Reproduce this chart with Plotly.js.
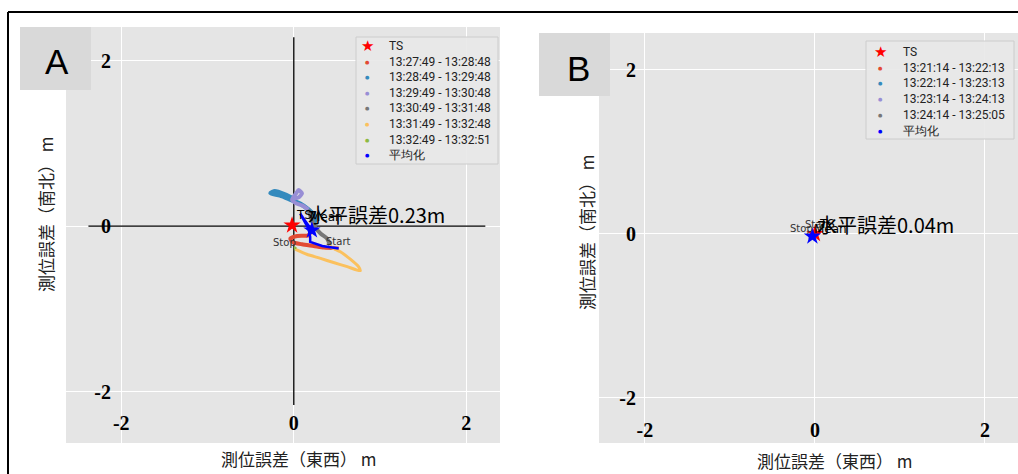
<!DOCTYPE html>
<html><head><meta charset="utf-8">
<script src="https://cdn.plot.ly/plotly-3.0.1.min.js"></script>
<style>html,body{margin:0;padding:0;overflow:hidden;background:#fff;} #chart{width:1040px;height:474px;}</style>
</head><body><div id="chart"></div>
<script>
// ================= DATA =================
// Panel A
const namesA = ["13:27:49 - 13:28:48", "13:28:49 - 13:29:48", "13:29:49 - 13:30:48",
                "13:30:49 - 13:31:48", "13:31:49 - 13:32:48", "13:32:49 - 13:32:51"];
const a1x = [0.52, 0.35, 0.23, 0.095, -0.02, -0.04, 0.04, 0.17, 0.22];
const a1y = [-0.27, -0.26, -0.24, -0.22, -0.19, -0.15, -0.12, -0.11, -0.02];
const a2x = [0.22, 0.25, 0.17, 0.075, -0.04, -0.16, -0.27, -0.22, -0.10, 0.0];
const a2y = [-0.02, 0.11, 0.20, 0.27, 0.32, 0.37, 0.40, 0.42, 0.38, 0.33];
const a3x = [0.0, 0.056, 0.095, 0.056, 0.03, -0.02, 0.017, 0.095, 0.17];
const a3y = [0.33, 0.347, 0.395, 0.435, 0.40, 0.32, 0.28, 0.25, 0.20];
const a4x = [0.17, 0.21, 0.23, 0.31, 0.385, 0.42];
const a4y = [0.20, 0.07, 0.01, -0.09, -0.15, -0.23];
const a5x = [0.42, 0.44, 0.54, 0.655, 0.75, 0.77, 0.62, 0.46, 0.31, 0.15, 0.02];
const a5y = [-0.23, -0.26, -0.31, -0.40, -0.49, -0.54, -0.49, -0.44, -0.39, -0.34, -0.28];
const a6x = [0.02, 0.01, 0.0];
const a6y = [-0.28, -0.27, -0.27];
const meanAx = [0.52, 0.33, 0.19, 0.19, 0.17, 0.13, 0.075, 0.12, 0.18, 0.21];
const meanAy = [-0.27, -0.24, -0.19, -0.13, -0.03, 0.05, 0.15, 0.08, 0.0, -0.05];
const tsAx = [-0.02], tsAy = [0.01];
const errTextA = "水平誤差0.23m";

// Panel B
const namesB = ["13:21:14 - 13:22:13", "13:22:14 - 13:23:13", "13:23:14 - 13:24:13", "13:24:14 - 13:25:05"];
const b1x = [0.03, 0.01, 0.02, 0.0];
const b1y = [0.03, 0.02, 0.0, 0.01];
const b2x = [0.0, -0.02, -0.04, -0.03];
const b2y = [0.01, -0.01, -0.03, -0.05];
const b3x = [-0.03, -0.05, -0.06, -0.04];
const b3y = [-0.05, -0.03, -0.05, -0.04];
const b4x = [-0.04, -0.02, -0.03, -0.05];
const b4y = [-0.04, -0.03, -0.02, -0.01];
const meanBx = [0.03, 0.01, -0.01, -0.03];
const meanBy = [0.03, 0.01, -0.01, -0.03];
const tsBx = [0.0], tsBy = [0.0];
const errTextB = "水平誤差0.04m";

const tickVals = [-2, 0, 2];
const tickText = ["-2", "0", "2"];
const crossAx = [-2.38, 2.22];   // horizontal reference line extent (panel A)
const crossAy = [-2.16, 2.28];   // vertical reference line extent (panel A)
const tsName = "TS", meanName = "平均化";
const xTitle = "測位誤差（東西） m", yTitle = "測位誤差（南北） m";

// ================= STYLE / LAYOUT =================
const W = 1040, H = 474;
const fx = p => p / W, fy = p => 1 - p / H;
const colors = ['#E24A33', '#348ABD', '#988ED5', '#777777', '#FBC15E', '#8EBA42'];
const widths = [4, 4.5, 4, 4, 3, 4];
const CJK = "Noto Sans CJK JP";

const traces = [];
function addPanel(xa, ya, xs, ys, mx, my, tx, ty) {
  xs.forEach((sx, i) => {
    traces.push({type: 'scatter', mode: 'lines', x: sx, y: ys[i], xaxis: xa, yaxis: ya,
      line: {color: colors[i], width: widths[i], shape: 'spline', smoothing: 0.6}, showlegend: false, hoverinfo: 'skip'});
  });
  traces.push({type: 'scatter', mode: 'lines', x: mx, y: my, xaxis: xa, yaxis: ya,
    line: {color: '#0000FF', width: 2.5}, showlegend: false});
  traces.push({type: 'scatter', mode: 'markers', x: tx, y: ty, xaxis: xa, yaxis: ya,
    marker: {symbol: 'star', size: 13, color: '#FF0000'}, showlegend: false});
  traces.push({type: 'scatter', mode: 'markers', x: [mx[mx.length - 1]], y: [my[my.length - 1]], xaxis: xa, yaxis: ya,
    marker: {symbol: 'star', size: 13, color: '#0000FF'}, showlegend: false});
}
addPanel('x', 'y', [a1x, a2x, a3x, a4x, a5x, a6x], [a1y, a2y, a3y, a4y, a5y, a6y], meanAx, meanAy, tsAx, tsAy);
addPanel('x2', 'y2', [b1x, b2x, b3x, b4x], [b1y, b2y, b3y, b4y], meanBx, meanBy, tsBx, tsBy);

const tickFont = {family: 'Liberation Serif', size: 20, color: '#000', weight: 'bold'};
function axis(domain, range, anchorPos) {
  return {domain, range, anchor: 'free', position: anchorPos, tickvals: tickVals, ticktext: tickText,
    showgrid: true, gridcolor: '#FFFFFF', gridwidth: 1, zeroline: false, showline: false,
    ticks: '', tickfont: tickFont, fixedrange: true};
}

const annotations = [];
function pAnn(text, x, y, opts) {
  annotations.push(Object.assign({text, xref: 'paper', yref: 'paper', x: fx(x), y: fy(y),
    showarrow: false, xanchor: 'center', yanchor: 'middle'}, opts));
}
function dAnn(text, xa, ya, x, y, opts) {
  annotations.push(Object.assign({text, xref: xa, yref: ya, x, y, showarrow: false}, opts));
}

// Panel letters
pAnn('A', 57, 62, {font: {family: 'Liberation Sans', size: 35, color: '#000'}});
pAnn('B', 578, 68, {font: {family: 'Liberation Sans', size: 35, color: '#000'}});
// Axis titles
const titleFont = {family: CJK, size: 17, color: '#222'};
pAnn(xTitle, 299, 458, {font: titleFont});
pAnn(xTitle, 835, 460, {font: titleFont});
pAnn(yTitle, 45, 214, {font: titleFont, textangle: -90});
pAnn(yTitle, 586, 232, {font: titleFont, textangle: -90});

// Point labels
const smallFont = {family: 'DejaVu Sans', size: 10, color: '#333'};
const labFont = {family: 'DejaVu Sans', size: 12, color: '#000'};
function pointLabels(xa, ya, mx, my, lastX, lastY, tx, ty, errText, errShift, meanShift) {
  dAnn('Start', xa, ya, mx[0], my[0], {font: smallFont, xanchor: 'center', yanchor: 'middle', yshift: 7});
  dAnn('Stop', xa, ya, lastX[lastX.length - 1], lastY[lastY.length - 1], {font: smallFont, xanchor: 'center', yanchor: 'middle', yshift: 6, xshift: -9});
  dAnn('TS', xa, ya, tx[0], ty[0], {font: labFont, xanchor: 'left', yanchor: 'middle', xshift: 2, yshift: 10});
  dAnn('Mean', xa, ya, mx[mx.length - 1], my[my.length - 1], {font: labFont, xanchor: 'left', yanchor: 'middle', xshift: meanShift[0], yshift: meanShift[1]});
  dAnn(errText, xa, ya, mx[mx.length - 1], my[my.length - 1], {font: {family: CJK, size: 20, color: '#000'},
    xanchor: 'left', yanchor: 'middle', xshift: errShift[0], yshift: errShift[1]});
}
pointLabels('x', 'y', meanAx, meanAy, a6x, a6y, tsAx, tsAy, errTextA, [-6, 16], [-4, 13]);
pointLabels('x2', 'y2', meanBx, meanBy, b4x, b4y, tsBx, tsBy, errTextB, [3, 12], [0, 7]);

// Manual legends
const legFont = {family: 'Roboto', size: 12, color: '#222'};
const shapes = [];
function legend(box, markX, textX, y0, dy, names, cols) {
  shapes.push({type: 'rect', xref: 'paper', yref: 'paper', x0: fx(box[0]), x1: fx(box[2]), y0: fy(box[1]), y1: fy(box[3]),
    fillcolor: 'rgba(232,232,232,0.9)', line: {color: '#CCCCCC', width: 1}, layer: 'above'});
  pAnn('★', markX, y0, {font: {family: 'DejaVu Sans', size: 15, color: '#FF0000'}});
  pAnn(tsName, textX, y0, {font: legFont, xanchor: 'left'});
  names.forEach((n, i) => {
    pAnn('●', markX, y0 + dy * (i + 1), {font: {family: 'DejaVu Sans', size: 5, color: cols[i]}});
    pAnn(n, textX, y0 + dy * (i + 1), {font: legFont, xanchor: 'left'});
  });
  const k = names.length + 1;
  pAnn('●', markX, y0 + dy * k, {font: {family: 'DejaVu Sans', size: 5, color: '#0000FF'}});
  pAnn(meanName, textX, y0 + dy * k, {font: legFont, xanchor: 'left'});
}
legend([356, 37, 498, 164], 367.5, 387, 46, 15.6, namesA, colors);
legend([866, 41, 1014, 139], 880.7, 901, 52, 15.7, namesB, colors);

// Panel letter boxes
shapes.push({type: 'rect', xref: 'paper', yref: 'paper', x0: fx(20), x1: fx(91), y0: fy(27), y1: fy(90),
  fillcolor: '#D9D9D9', line: {width: 0}, layer: 'above'});
shapes.push({type: 'rect', xref: 'paper', yref: 'paper', x0: fx(539), x1: fx(610), y0: fy(33), y1: fy(96),
  fillcolor: '#D9D9D9', line: {width: 0}, layer: 'above'});
// Crosshair in panel A
shapes.push({type: 'line', xref: 'x', yref: 'y', x0: crossAx[0], x1: crossAx[1], y0: 0, y1: 0,
  line: {color: '#000', width: 1.3}, layer: 'between'});
shapes.push({type: 'line', xref: 'x', yref: 'y', x0: 0, x1: 0, y0: crossAy[0], y1: crossAy[1],
  line: {color: '#000', width: 1.3}, layer: 'between'});
// Outer frame
shapes.push({type: 'line', xref: 'paper', yref: 'paper', x0: fx(8), x1: 1.2, y0: fy(12), y1: fy(12), line: {color: '#000', width: 2}});
shapes.push({type: 'line', xref: 'paper', yref: 'paper', x0: fx(8), x1: fx(8), y0: fy(12), y1: -0.2, line: {color: '#000', width: 2}});

const layout = {
  width: W, height: H, margin: {l: 0, r: 0, t: 0, b: 0},
  paper_bgcolor: '#FFFFFF', plot_bgcolor: '#E5E5E5', showlegend: false,
  xaxis: axis([fx(66), fx(500)], [-2.64, 2.39], fy(409)),
  yaxis: axis([fy(443), fy(27)], [-2.62, 2.405], fx(111)),
  xaxis2: axis([fx(599), fx(1024)], [-2.54, 2.459], fy(416)),
  yaxis2: axis([fy(443), fy(33)], [-2.55, 2.45], fx(636)),
  annotations, shapes
};
Plotly.newPlot('chart', traces, layout, {staticPlot: true});
</script></body></html>
